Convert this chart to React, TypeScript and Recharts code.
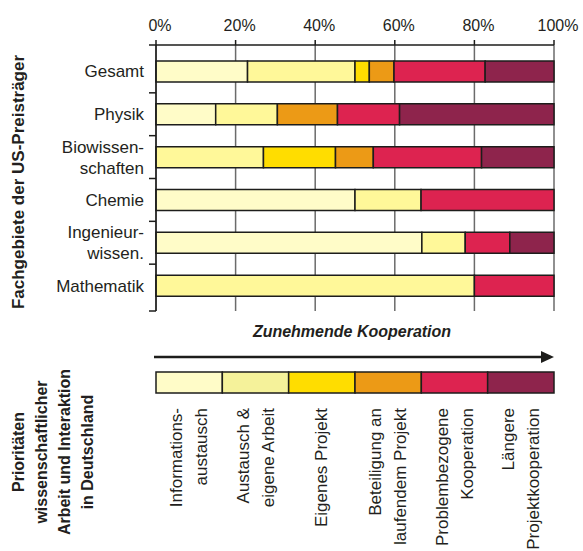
import { BarChart, Bar, XAxis, YAxis, CartesianGrid } from "recharts";

// Fachgebiete (y axis) in percent
const categories = [
  "Gesamt",
  "Physik",
  "Biowissen-\nschaften",
  "Chemie",
  "Ingenieur-\nwissen.",
  "Mathematik",
];
const informationsaustausch = [23, 15, 0, 50, 66.8, 0];
const austauschEigeneArbeit = [27, 15.5, 27, 16.6, 10.9, 80];
const eigenesProjekt = [3.6, 0, 18.1, 0, 0, 0];
const beteiligungLaufend = [6.2, 15.1, 9.5, 0, 0, 0];
const problembezogen = [22.9, 15.6, 27.2, 33.4, 11.2, 20];
const laengereKooperation = [17.3, 38.8, 18.2, 0, 11.1, 0];

const percentTicks = [0, 20, 40, 60, 80, 100];

const seriesKeys = ["info", "austausch", "eigenes", "beteiligung", "problem", "laenger"];
const seriesLabels = [
  "Informations-\naustausch",
  "Austausch &\neigene Arbeit",
  "Eigenes Projekt",
  "Beteiligung an\nlaufendem Projekt",
  "Problembezogene\nKooperation",
  "Längere\nProjektkooperation",
];
const seriesColors = ["#FFFCC8", "#FFF899", "#FFDD00", "#EC9A16", "#DD2350", "#8E244C"];
const legendColors = ["#FFFCC8", "#F5F29A", "#FFDD00", "#EC9A16", "#DD2350", "#8E244C"];

const data = categories.map((name, i) => ({
  name,
  info: informationsaustausch[i],
  austausch: austauschEigeneArbeit[i],
  eigenes: eigenesProjekt[i],
  beteiligung: beteiligungLaufend[i],
  problem: problembezogen[i],
  laenger: laengereKooperation[i],
}));

const FONT = "'Liberation Sans', Arial, Helvetica, sans-serif";
const TEXT = "#231f20";
const DARK = "#1d1d1b";
const GRID = "#6b6b6b";

const W = 583;
const H = 551;
const PLOT_LEFT = 156;
const PLOT_RIGHT = 554;
const PLOT_TOP = 45;
const PLOT_BOTTOM = 311;
const PAD_TOP = 5;
const PAD_BOTTOM = 4;
const BAND = (PLOT_BOTTOM - PLOT_TOP - PAD_TOP - PAD_BOTTOM) / categories.length;

function CategoryTick(props: any) {
  const { y, payload, index } = props;
  const lines = String(payload.value).split("\n");
  const lh = 21;
  const y0 = y - ((lines.length - 1) * lh) / 2;
  return (
    <g>
      {index > 0 && (
        <line
          x1={PLOT_LEFT - 7}
          x2={PLOT_LEFT}
          y1={y - BAND / 2}
          y2={y - BAND / 2}
          stroke={DARK}
          strokeWidth={1.5}
        />
      )}
      <text
        textAnchor="end"
        fill={TEXT}
        fontSize={17}
        fontFamily={FONT}
      >
        {lines.map((l, i) => (
          <tspan key={i} x={PLOT_LEFT - 12} y={y0 + i * lh} dy="0.35em">
            {l}
          </tspan>
        ))}
      </text>
    </g>
  );
}

function Overlay() {
  const boxW = (PLOT_RIGHT - PLOT_LEFT) / seriesLabels.length;
  const legendTop = 372;
  const legendH = 21;
  const labelTop = 408;
  const titleLines = [
    "Prioritäten",
    "wissenschaftlicher",
    "Arbeit und Interaktion",
    "in Deutschland",
  ];
  return (
    <svg
      width={W}
      height={H}
      style={{ position: "absolute", left: 0, top: 0, pointerEvents: "none" }}
      fontFamily={FONT}
    >
      {/* left extensions of top / bottom frame lines */}
      <line x1={PLOT_LEFT - 7} x2={PLOT_LEFT} y1={PLOT_TOP} y2={PLOT_TOP} stroke={DARK} strokeWidth={1.5} />
      <line x1={PLOT_LEFT - 7} x2={PLOT_LEFT} y1={PLOT_BOTTOM} y2={PLOT_BOTTOM} stroke={DARK} strokeWidth={1.5} />

      <text
        transform={`translate(18, 182) rotate(-90)`}
        textAnchor="middle"
        dominantBaseline="central"
        fontSize={17}
        fontWeight="bold"
        fill={TEXT}
      >
        Fachgebiete der US-Preisträger
      </text>

      <text
        x={352}
        y={331}
        textAnchor="middle"
        dominantBaseline="central"
        fontSize={16}
        fontWeight="bold"
        fontStyle="italic"
        fill={TEXT}
      >
        Zunehmende Kooperation
      </text>

      <line x1={154} x2={544} y1={357} y2={357} stroke={DARK} strokeWidth={2.5} />
      <polygon points="541,351 554,357 541,363" fill={DARK} />

      {legendColors.map((c, i) => (
        <rect
          key={seriesKeys[i]}
          x={PLOT_LEFT + i * boxW}
          y={legendTop}
          width={boxW}
          height={legendH}
          fill={c}
          stroke={DARK}
          strokeWidth={1.5}
        />
      ))}

      {seriesLabels.map((lab, i) => {
        const lines = lab.split("\n");
        const cx = PLOT_LEFT + (i + 0.5) * boxW;
        const lh = 25;
        return lines.map((l, j) => {
          const x = cx + (j - (lines.length - 1) / 2) * lh;
          return (
            <text
              key={`${i}-${j}`}
              transform={`translate(${x}, ${labelTop}) rotate(-90)`}
              textAnchor="end"
              dominantBaseline="central"
              fontSize={17}
              fill={TEXT}
            >
              {l}
            </text>
          );
        });
      })}

      {titleLines.map((l, j) => (
        <text
          key={l}
          transform={`translate(${18 + j * 23.3}, 452) rotate(-90)`}
          textAnchor="middle"
          dominantBaseline="central"
          fontSize={16}
          fontWeight="bold"
          fill={TEXT}
        >
          {l}
        </text>
      ))}
    </svg>
  );
}

export default function App() {
  return (
    <div
      style={{
        position: "absolute",
        left: 0,
        top: 0,
        width: W,
        height: H,
        background: "#fff",
        fontFamily: FONT,
      }}
    >
      <div style={{ position: "absolute", left: 0, top: 0 }}>
        <BarChart
          width={W}
          height={H}
          data={data}
          layout="vertical"
          barSize={21}
          margin={{ top: 0, right: W - PLOT_RIGHT, left: 0, bottom: H - PLOT_BOTTOM }}
        >
          <CartesianGrid horizontal={false} stroke={GRID} strokeWidth={1.5} />
          <XAxis
            type="number"
            orientation="top"
            domain={[0, 100]}
            ticks={percentTicks}
            height={PLOT_TOP}
            tickSize={5}
            tickMargin={9}
            tickFormatter={(v: number) => `${v}%`}
            axisLine={{ stroke: DARK, strokeWidth: 1.5 }}
            tickLine={{ stroke: DARK, strokeWidth: 1.5 }}
            tick={{ fill: TEXT, fontSize: 16, fontFamily: FONT, dx: 4 }}
            interval={0}
          />
          <XAxis
            xAxisId="bottom"
            type="number"
            orientation="bottom"
            domain={[0, 100]}
            height={0}
            tick={false}
            tickLine={false}
            axisLine={{ stroke: DARK, strokeWidth: 1.5 }}
          />
          <YAxis
            type="category"
            dataKey="name"
            width={PLOT_LEFT}
            padding={{ top: PAD_TOP, bottom: PAD_BOTTOM }}
            axisLine={{ stroke: DARK, strokeWidth: 1.5 }}
            tickLine={false}
            tick={<CategoryTick />}
            interval={0}
          />
          {seriesKeys.map((k, i) => (
            <Bar
              key={k}
              dataKey={k}
              stackId="a"
              fill={seriesColors[i]}
              stroke={DARK}
              strokeWidth={1.5}
              isAnimationActive={false}
            />
          ))}
        </BarChart>
      </div>
      <Overlay />
    </div>
  );
}
